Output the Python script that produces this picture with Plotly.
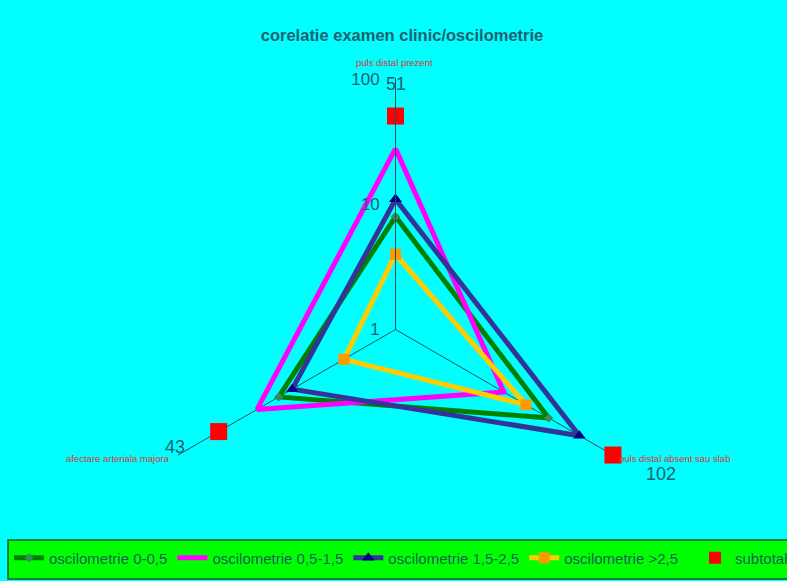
import plotly.graph_objects as go

categories = ["puls distal prezent", "puls distal absent sau slab", "afectare arteriala majora"]
osc_0_05 = [8, 26, 12]
osc_05_15 = [28, 10, 19]
osc_15_25 = [11, 50, 9]
osc_gt_25 = [4, 16, 3]
subtotal = [51, 102, 43]
radial_ticks = [1, 10, 100]

TXT = "#1f5f6f"


def closed(vals):
    return list(vals) + [vals[0]]


cats_closed = closed(categories)

fig = go.Figure()
fig.add_trace(go.Scatterpolar(
    r=closed(osc_0_05), theta=cats_closed, name="oscilometrie 0-0,5",
    mode="lines+markers", line=dict(color="#008000", width=5),
    marker=dict(symbol="diamond", size=7, color="#3a8a5a")))
fig.add_trace(go.Scatterpolar(
    r=closed(osc_05_15), theta=cats_closed, name="oscilometrie 0,5-1,5",
    mode="lines", line=dict(color="#ff00ff", width=5)))
fig.add_trace(go.Scatterpolar(
    r=closed(osc_15_25), theta=cats_closed, name="oscilometrie 1,5-2,5",
    mode="lines+markers", line=dict(color="#333399", width=5),
    marker=dict(symbol="triangle-up", size=11, color="#000080")))
fig.add_trace(go.Scatterpolar(
    r=closed(osc_gt_25), theta=cats_closed, name="oscilometrie >2,5",
    mode="lines+markers", line=dict(color="#ffcc00", width=5),
    marker=dict(symbol="square", size=11, color="#ff9900")))
fig.add_trace(go.Scatterpolar(
    r=subtotal, theta=categories, name="subtotal", legend="legend2",
    mode="markers", cliponaxis=False,
    marker=dict(symbol="square", size=17, color="#ff0000")))

W, H = 787, 581
cx, cy = 395.5, 329.5
R100 = 250                     # pixel radius of the value 100
rmax_log = 2.01                # radial range slightly past 100 (log10)
R = R100 * rmax_log / 2

annotations = []
# category labels
cat_pos = [(395, 62, "center"), (617, 458, "left"), (172, 458, "right")]
for (px, py, anc), c in zip(cat_pos, categories):
    annotations.append(dict(x=px / W, y=1 - py / H, xref="paper", yref="paper",
                            xanchor=anc, yanchor="middle",
                            text=c, showarrow=False,
                            font=dict(size=9.5, color="#dd3333", family="Arial")))
# subtotal value labels
label_pos = [(396, 84), (661, 474), (175, 447)]
for (px, py), v in zip(label_pos, subtotal):
    annotations.append(dict(x=px / W, y=1 - py / H, xref="paper", yref="paper",
                            xanchor="center", yanchor="middle",
                            text=str(v), showarrow=False,
                            font=dict(size=18, color=TXT, family="Arial")))

y0 = max(0.0, (H - cy - R) / H)
y1 = min(1.0, (H - cy + R) / H)

fig.update_layout(
    width=W, height=H,
    margin=dict(l=0, r=0, t=0, b=0, autoexpand=False),
    paper_bgcolor="#00ffff",
    font=dict(family="Arial, Liberation Sans, sans-serif", color=TXT),
    title=dict(text="<b>corelatie examen clinic/oscilometrie</b>",
               x=402 / W, xanchor="center", y=1 - 35 / H, yanchor="middle",
               font=dict(size=16.5, color=TXT)),
    polar=dict(
        domain=dict(x=[(cx - R) / W, (cx + R) / W], y=[y0, y1]),
        bgcolor="rgba(0,0,0,0)",
        radialaxis=dict(type="log", range=[0, rmax_log], angle=90, tickangle=90,
                        side="counterclockwise",
                        tickvals=radial_ticks,
                        ticktext=[str(t) + "\u00a0\u00a0" for t in radial_ticks],
                        showgrid=False, showline=True, linecolor="#1f4f5f", linewidth=1,
                        ticks="", tickfont=dict(size=17, color=TXT)),
        angularaxis=dict(rotation=90, direction="clockwise", showline=False,
                         showgrid=True, gridcolor="#1f4f5f", gridwidth=1, ticks="",
                         showticklabels=False),
    ),
    legend=dict(orientation="h", x=9 / W, xanchor="left", y=1 - 558 / H, yanchor="middle",
                bgcolor="rgba(0,0,0,0)", font=dict(size=15, color="#1a5f55"),
                itemsizing="trace"),
    legend2=dict(orientation="h", x=695 / W, xanchor="left", y=1 - 558 / H, yanchor="middle",
                 bgcolor="rgba(0,0,0,0)", font=dict(size=15, color="#1a5f55"),
                 itemsizing="constant"),
    shapes=[dict(type="rect", xref="paper", yref="paper", layer="below",
                 x0=8 / W, x1=1.02, y0=1 - 579 / H, y1=1 - 540 / H,
                 fillcolor="#00ff00", line=dict(color="#0a5a2a", width=1.5))],
    annotations=annotations,
)

fig.write_html("out.html")
